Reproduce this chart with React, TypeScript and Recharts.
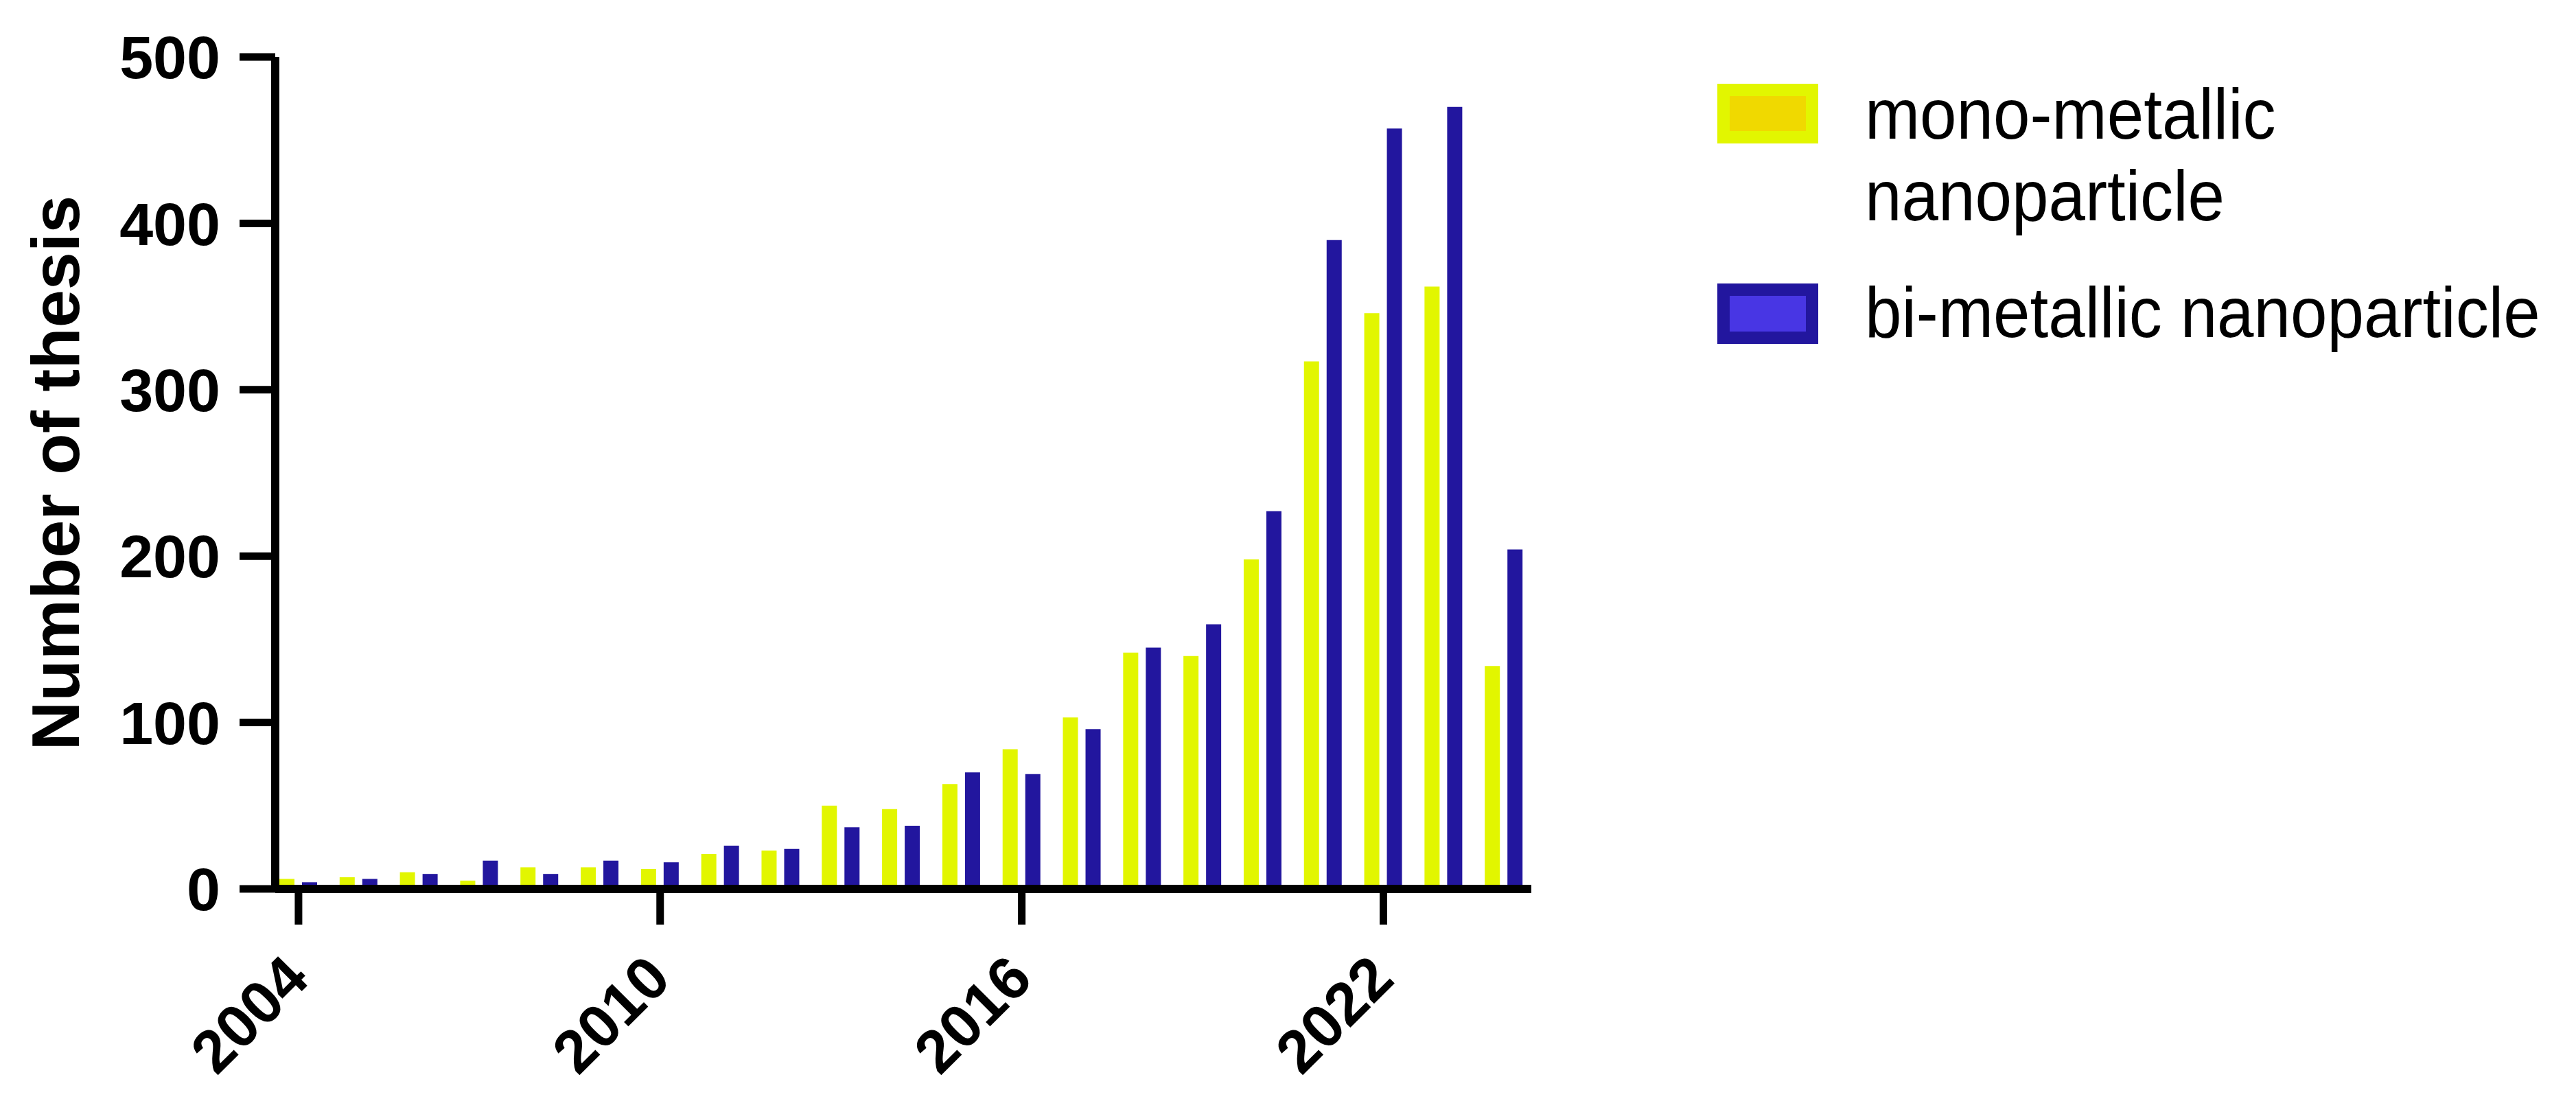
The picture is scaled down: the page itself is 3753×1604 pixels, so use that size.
import React from 'react';
import { BarChart, Bar, XAxis, YAxis, Legend, Label } from 'recharts';

const years = ['2004', '2005', '2006', '2007', '2008', '2009', '2010', '2011', '2012', '2013', '2014',
    '2015', '2016', '2017', '2018', '2019', '2020', '2021', '2022', '2023', '2024'];
const monoValues = [6, 7, 10, 5, 13, 13, 12, 21, 23, 50, 48, 63, 84, 103, 142, 140, 198, 317, 346, 362, 134];
const biValues = [4, 6, 9, 17, 9, 17, 16, 26, 24, 37, 38, 70, 69, 96, 145, 159, 227, 390, 457, 470, 204];
const yTicks = [0, 100, 200, 300, 400, 500];

const FONT = '"Liberation Sans", Arial, Helvetica, sans-serif';
const MONO_COLOR = '#E2F600';
const MONO_INNER = '#F0D900';
const BI_COLOR = '#22169E';
const BI_INNER = '#4836E4';

const chartData = years.map((year, i) => ({ year, mono: monoValues[i], bi: biValues[i] }));

const YearTick: React.FC<any> = ({ x, y, payload }) => {
    const px = x + 19;
    const py = y + 83;
    return (
        <text x={px} y={py} textAnchor="end" transform={`rotate(-45, ${px}, ${py})`}
            fontSize={88} fontWeight={700} fontFamily={FONT} fill="#000">
            {payload.value}
        </text>
    );
};

const AxisTitle: React.FC<any> = ({ viewBox }) => {
    const vb = viewBox || { x: 0, y: 83, width: 401, height: 1212 };
    const cx = vb.x + 115;
    const cy = vb.y + vb.height / 2;
    return (
        <text x={cx} y={cy} textAnchor="middle" transform={`rotate(-90, ${cx}, ${cy})`}
            fontSize={99} fontWeight={700} fontFamily={FONT} fill="#000">
            Number of thesis
        </text>
    );
};

// Prism-style legend: bordered swatch, narrow Helvetica-like text
const LegendBox = () => {
    const textProps = { fontSize: 104, fontFamily: FONT, fill: '#000' };
    return (
        <svg width={1300} height={460}>
            <rect x={61} y={51} width={129} height={69} fill={MONO_INNER} stroke={MONO_COLOR} strokeWidth={18} />
            <g transform="translate(267,122) scale(0.925,1)"><text x={0} y={0} {...textProps}>mono-metallic</text></g>
            <g transform="translate(267,241) scale(0.925,1)"><text x={0} y={0} {...textProps}>nanoparticle</text></g>
            <rect x={61} y={342} width={129} height={70} fill={BI_INNER} stroke={BI_COLOR} strokeWidth={18} />
            <g transform="translate(267,411) scale(0.925,1)"><text x={0} y={0} {...textProps}>bi-metallic nanoparticle</text></g>
        </svg>
    );
};

export default function App() {
    return (
        <div style={{ position: 'absolute', left: 0, top: 0, width: 3753, height: 1604, background: '#fff' }}>
            <BarChart width={3753} height={1604} data={chartData}
                margin={{ top: 83, right: 1522, bottom: 0, left: 0 }}
                barSize={22} barGap={11}>
                <XAxis dataKey="year" interval={5} height={309} padding={{ left: -10, right: -4 }}
                    stroke="#000" axisLine={{ stroke: '#000', strokeWidth: 12 }}
                    tickLine={{ stroke: '#000', strokeWidth: 11 }} tickSize={52} tickMargin={0}
                    tick={<YearTick />} />
                <YAxis type="number" domain={[0, 500]} ticks={yTicks} width={401} interval={0}
                    stroke="#000" axisLine={{ stroke: '#000', strokeWidth: 12 }}
                    tickLine={{ stroke: '#000', strokeWidth: 11 }} tickSize={52} tickMargin={28}
                    tick={{ fill: '#000', fontSize: 88, fontWeight: 700, fontFamily: FONT }}>
                    <Label content={<AxisTitle />} />
                </YAxis>
                <Legend layout="horizontal" verticalAlign="middle" align="center"
                    wrapperStyle={{ left: 2450, top: 80, width: 1300, height: 460 }}
                    content={() => <LegendBox />} />
                <Bar dataKey="mono" name="mono-metallic nanoparticle" fill={MONO_COLOR} isAnimationActive={false} />
                <Bar dataKey="bi" name="bi-metallic nanoparticle" fill={BI_COLOR} isAnimationActive={false} />
            </BarChart>
        </div>
    );
}
